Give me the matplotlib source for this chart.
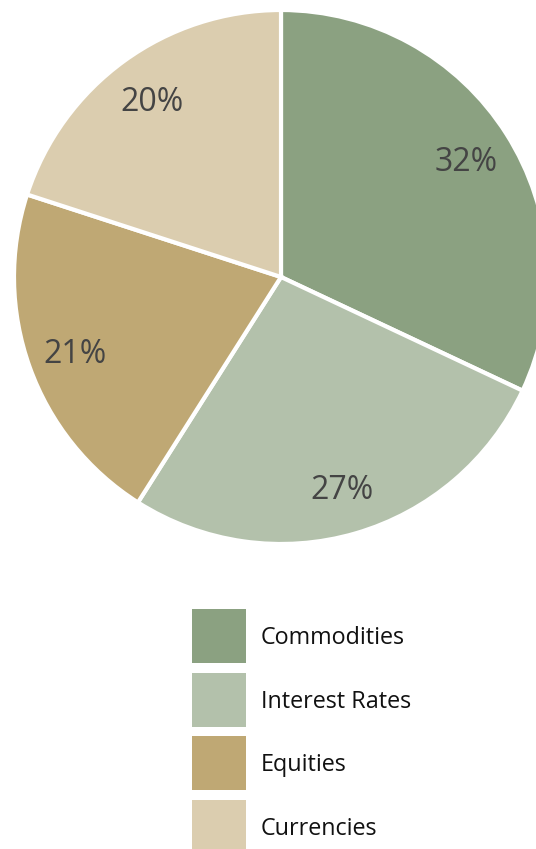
import matplotlib.pyplot as plt
from matplotlib.patches import Rectangle

# allocation shares, clockwise from 12 o'clock
categories = ["Commodities", "Interest Rates", "Equities", "Currencies"]
shares = [32, 27, 21, 20]
colors = ["#8ba181", "#b3c1ab", "#bfa874", "#dbcdaf"]

W, H = 536, 849
plt.rcParams["font.family"] = ["Open Sans", "DejaVu Sans"]

fig = plt.figure(figsize=(W / 100, H / 100), dpi=100)
ax = fig.add_axes([0, 0, 1, 1])

wedges, texts, autotexts = ax.pie(
    shares,
    colors=colors,
    startangle=90,
    counterclock=False,
    center=(281, H - 277),
    radius=267,
    autopct="%d%%",
    pctdistance=0.82,
    wedgeprops=dict(edgecolor="white", linewidth=3),
    textprops=dict(color="#444444", fontsize=23),
)
# nudge the percentages a little lower inside their wedges
for t in autotexts:
    x, y = t.get_position()
    t.set_position((x, y - 3))

ax.set_xlim(0, W)
ax.set_ylim(0, H)
ax.set_aspect("equal")
ax.axis("off")

# legend: swatches stacked below the pie
x0, y0, size, step = 192, 609, 54, 63.7
for i, (name, c) in enumerate(zip(categories, colors)):
    top = y0 + i * step
    ax.add_patch(Rectangle((x0, H - top - size), size, size,
                           facecolor=c, edgecolor="none", clip_on=False))
    ax.text(x0 + 69, H - top - size / 2 - 2, name, fontsize=16.8,
            color="#111111", va="center", ha="left")

fig.savefig("out.png", dpi=100)
